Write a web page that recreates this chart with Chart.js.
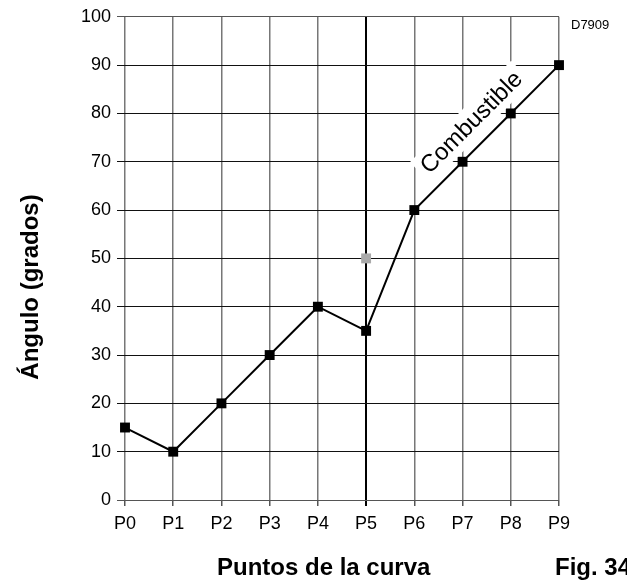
<!DOCTYPE html>
<html>
<head>
<meta charset="utf-8">
<script src="https://cdn.jsdelivr.net/npm/chart.js@4/dist/chart.umd.min.js"></script>
<style>
  html, body { margin: 0; padding: 0; background: #fff; }
  #wrap { width: 627px; height: 581px; position: relative; }
</style>
</head>
<body>
<div id="wrap"><canvas id="curve-chart"></canvas></div>
<script>
// Curve points and angle values (degrees)
const categories = ['P0', 'P1', 'P2', 'P3', 'P4', 'P5', 'P6', 'P7', 'P8', 'P9'];
const angleValues = [15, 10, 20, 30, 40, 35, 60, 70, 80, 90];
const greyPoint = [null, null, null, null, null, 50, null, null, null, null];
const yTicks = [0, 10, 20, 30, 40, 50, 60, 70, 80, 90, 100];

const FONT = "'Liberation Sans', Arial, Helvetica, sans-serif";

// Extra texts: axis titles, figure labels, and the rotated "Combustible" label
const annotations = {
    id: 'annotations',
    afterDraw(chart) {
        const ctx = chart.ctx;
        const x = chart.scales.x;
        const y = chart.scales.y;
        ctx.save();
        ctx.fillStyle = '#000';

        // y axis title
        ctx.save();
        ctx.translate(31, 287);
        ctx.rotate(-Math.PI / 2);
        ctx.font = 'bold 24px ' + FONT;
        ctx.textAlign = 'center';
        ctx.textBaseline = 'middle';
        ctx.fillText('Ángulo (grados)', 0, 0);
        ctx.restore();

        // x axis title and figure number
        ctx.font = 'bold 24px ' + FONT;
        ctx.textBaseline = 'middle';
        ctx.textAlign = 'left';
        ctx.fillText('Puntos de la curva', 217, 568);
        ctx.fillText('Fig. 34', 555, 568);

        // drawing reference
        ctx.font = '13px ' + FONT;
        ctx.fillText('D7909', 571, 25);

        // "Combustible" along the rising part of the curve
        const x1 = x.getPixelForValue(6), y1 = y.getPixelForValue(angleValues[6]);
        const x2 = x.getPixelForValue(9), y2 = y.getPixelForValue(angleValues[9]);
        const ang = Math.atan2(y2 - y1, x2 - x1);
        const mx = (x.getPixelForValue(7) + x.getPixelForValue(8)) / 2;
        const my = y.getPixelForValue((angleValues[7] + angleValues[8]) / 2);
        const off = 22;
        const cx = mx + Math.sin(ang) * off;
        const cy = my - Math.cos(ang) * off;
        ctx.save();
        ctx.translate(cx, cy);
        ctx.rotate(ang);
        ctx.font = '24px ' + FONT;
        const w = ctx.measureText('Combustible').width;
        ctx.fillStyle = '#fff';
        ctx.fillRect(-w / 2 - 5, -15, w + 10, 30);
        ctx.fillStyle = '#000';
        ctx.textAlign = 'center';
        ctx.textBaseline = 'middle';
        ctx.fillText('Combustible', 0, 1);
        ctx.restore();

        ctx.restore();
    }
};

new Chart('curve-chart', {
    type: 'line',
    data: {
        labels: categories,
        datasets: [
            {
                data: greyPoint,
                showLine: false,
                pointStyle: 'rect',
                pointRadius: 7,
                pointBackgroundColor: '#aaa',
                pointBorderWidth: 0,
                clip: false,
            },
            {
                data: angleValues,
                borderColor: '#000',
                borderWidth: 2,
                tension: 0,
                pointStyle: 'rect',
                pointRadius: 7,
                pointBackgroundColor: '#000',
                pointBorderWidth: 0,
                clip: false,
            }
        ]
    },
    options: {
        responsive: true,
        maintainAspectRatio: false,
        animation: false,
        events: [],
        layout: {
            padding: { left: 0, top: 16, right: 68, bottom: 0 }
        },
        plugins: {
            legend: { display: false },
            tooltip: { enabled: false }
        },
        scales: {
            x: {
                type: 'category',
                offset: false,
                border: { display: false },
                grid: {
                    color: c => c.index === 5 ? '#000' : '#777',
                    lineWidth: c => c.index === 5 ? 2 : 1.5,
                    tickLength: 6,
                    tickColor: c => c.index === 5 ? '#000' : '#555',
                },
                ticks: {
                    color: '#000',
                    font: { family: FONT, size: 18 },
                    padding: 7,
                    maxRotation: 0,
                    autoSkip: false
                },
                afterFit: axis => { axis.height = 81; }
            },
            y: {
                min: 0,
                max: 100,
                border: { display: false },
                afterBuildTicks: axis => { axis.ticks = yTicks.map(v => ({ value: v })); },
                grid: {
                    color: c => (c.index === 0 || c.index === 10) ? '#555' : '#111',
                    lineWidth: 1,
                    tickLength: 8,
                },
                ticks: {
                    color: '#000',
                    font: { family: FONT, size: 18 },
                    padding: 6
                },
                afterFit: axis => { axis.width = 125; }
            }
        }
    },
    plugins: [annotations]
});
</script>
</body>
</html>
